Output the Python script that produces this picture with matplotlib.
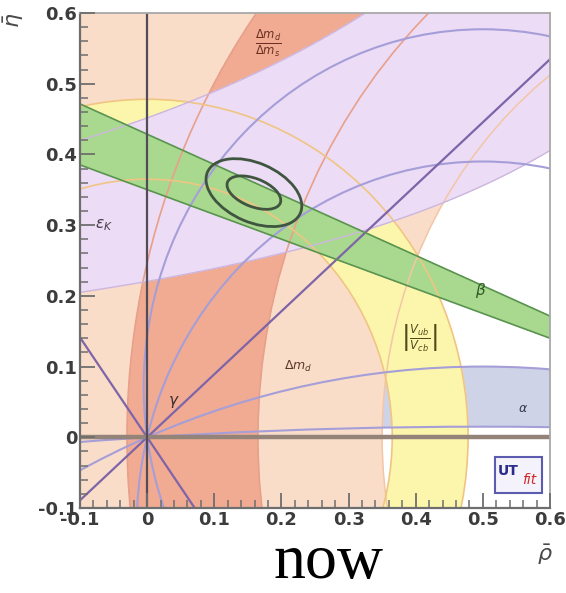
import numpy as np
import matplotlib.pyplot as plt
from matplotlib.patches import Circle, Ellipse, Rectangle
from matplotlib.ticker import MultipleLocator

plt.rcParams['font.family'] = ['DejaVu Sans']

# constraint shapes (rho-bar / eta-bar plane)
dmd_radius = 0.65             # inner edge of the dm_d ring round (1, 0)
dms_radii = [0.835, 1.03]     # dm_d/dm_s ring round (1, 0)
vub_radii = [0.365, 0.478]    # |Vub/Vcb| ring round (0, 0)
epsk_levels = [0.29, 0.594]   # eta * (epsk_shift - rho)
epsk_shift = 1.315
beta_deg = [19.3, 23.2]       # rays from (1, 0)
gamma_deg = [41.7, 125.3]     # rays from (0, 0)
alpha_apex = [0.015, 0.1, 0.39, 0.577]   # height of alpha circles at rho = 0.5
alpha_fill_apex = [0.1, 0.015]

fit_center = [0.159, 0.346]
fit_width = [0.084, 0.150]
fit_height = [0.040, 0.084]
fit_angle = [-20, -22]

tick_vals = [-0.1, 0.0, 0.1, 0.2, 0.3, 0.4, 0.5, 0.6]
tick_labels = ['-0.1', '0', '0.1', '0.2', '0.3', '0.4', '0.5', '0.6']

peach = '#f9ddc8'
salmon = '#f0ab92'
lavender = '#ecdcf5'
yellow = '#fcf6ac'
green = '#a9d98f'
alpha_col = '#cfd3e8'

fig = plt.figure(figsize=(5.66, 5.93), dpi=100)
ax = fig.add_axes([80 / 566, 85 / 593, 470 / 566, 495 / 593])

r = np.linspace(-0.1, 0.6, 801)
R, E = np.meshgrid(r, r)
d1 = np.hypot(1 - R, E)
d0 = np.hypot(R, E)
epsk = E * (epsk_shift - R)
beta_field = np.degrees(np.arctan2(E, 1 - R))
# angle seen from (rho, eta) between (0,0) and (1,0)
v1 = np.stack([-R, -E])
v2 = np.stack([1 - R, -E])
cosang = (v1 * v2).sum(0) / (np.hypot(*v1) * np.hypot(*v2) + 1e-12)
alpha_field = np.degrees(np.arccos(np.clip(cosang, -1, 1)))
alpha_field = np.where(E >= 0, alpha_field, np.nan)
alpha_lv = sorted(np.degrees(2 * np.arctan(0.5 / np.array(alpha_fill_apex))))

ax.contourf(R, E, alpha_field, levels=alpha_lv, colors=[alpha_col], zorder=1)
ax.contourf(R, E, d1, levels=[dmd_radius, 10], colors=[peach], zorder=2)
ax.contourf(R, E, d1, levels=dms_radii, colors=[salmon], zorder=3)
ax.contourf(R, E, d0, levels=vub_radii, colors=[yellow], zorder=4)
ax.contourf(R, E, epsk, levels=epsk_levels, colors=[lavender], zorder=5)
ax.contourf(R, E, beta_field, levels=beta_deg, colors=[green], zorder=6)

# outlines
ax.add_patch(Circle((1, 0), dmd_radius, fill=False, ec='#f3c6a6', lw=1.1, zorder=7))
for rad in dms_radii:
    ax.add_patch(Circle((1, 0), rad, fill=False, ec='#e8a08a', lw=1.2, zorder=7))
for rad in vub_radii:
    ax.add_patch(Circle((0, 0), rad, fill=False, ec='#f0c583', lw=1.2, zorder=7))
ax.contour(R, E, epsk, levels=epsk_levels, colors=['#cdb6de'], linewidths=1.0, zorder=7)
for h in alpha_apex:
    k = (h ** 2 - 0.25) / (2 * h)
    ax.add_patch(Circle((0.5, k), np.hypot(0.5, k), fill=False, ec='#a59ed8',
                        lw=1.5, zorder=8))
for g in gamma_deg:
    ax.axline((0, 0), slope=np.tan(np.radians(g)), color='#7e64a8', lw=1.6, zorder=8)
for b in beta_deg:
    ax.axline((1, 0), slope=-np.tan(np.radians(b)), color='#5a9450', lw=1.2, zorder=8)

ax.axhline(0, color='#948379', lw=3.2, zorder=9)
ax.axvline(0, color='#524c58', lw=1.6, zorder=9)

for w, hgt, ang in zip(fit_width, fit_height, fit_angle):
    ax.add_patch(Ellipse(fit_center, w, hgt, angle=ang, fill=False, ec='#3f5540',
                         lw=2.0, zorder=10))

# labels of the constraints
ax.text(0.18, 0.558, r'$\frac{\Delta m_d}{\Delta m_s}$', color='#6b2f22', fontsize=12,
        ha='center', va='center', zorder=11)
ax.text(-0.064, 0.3, r'$\epsilon_K$', color='#4a3a4a', fontsize=11, ha='center',
        va='center', zorder=11)
ax.text(0.497, 0.207, r'$\beta$', color='#2f5a25', fontsize=11, ha='center',
        va='center', zorder=11)
ax.text(0.405, 0.14, r'$\left|\frac{V_{ub}}{V_{cb}}\right|$', color='#50491c',
        fontsize=12, ha='center', va='center', zorder=11)
ax.text(0.225, 0.1, r'$\Delta m_d$', color='#5a3a2a', fontsize=9, ha='center',
        va='center', zorder=11)
ax.text(0.04, 0.05, r'$\gamma$', color='#3a2a30', fontsize=11, ha='center',
        va='center', zorder=11)
ax.text(0.56, 0.04, r'$\alpha$', color='#3a3a4a', fontsize=9, ha='center',
        va='center', zorder=11)

# UTfit logo
ax.add_patch(Rectangle((0.884, 0.031), 0.099, 0.072, transform=ax.transAxes,
                       fc='#f4f2fb', ec='#5b5bb0', lw=1.5, zorder=11))
ax.text(0.912, 0.074, 'UT', transform=ax.transAxes, color='#2c2c8c', fontsize=10,
        fontweight='bold', ha='center', va='center', zorder=12)
ax.text(0.956, 0.056, 'fit', transform=ax.transAxes, color='#d02a2a', fontsize=10,
        style='italic', ha='center', va='center', zorder=12)

ax.set_xlim(-0.1, 0.6)
ax.set_ylim(-0.1, 0.6)
ax.set_xticks(tick_vals)
ax.set_xticklabels(tick_labels)
ax.set_yticks(tick_vals)
ax.set_yticklabels(tick_labels)
ax.xaxis.set_minor_locator(MultipleLocator(0.02))
ax.yaxis.set_minor_locator(MultipleLocator(0.02))
ax.tick_params(which='major', direction='in', length=11, width=1.3, color='#6e6e6e',
               labelsize=13, labelcolor='#3c3c3c', pad=2)
ax.tick_params(which='minor', direction='in', length=6, width=1.1, color='#6e6e6e')
for lab in ax.get_xticklabels() + ax.get_yticklabels():
    lab.set_fontweight('bold')
ax.xaxis.set_zorder(13)
ax.yaxis.set_zorder(13)
for side in ['left', 'bottom']:
    ax.spines[side].set_color('#6e6e6e')
    ax.spines[side].set_linewidth(1.6)
    ax.spines[side].set_zorder(12)
for side in ['top', 'right']:
    ax.spines[side].set_color('#a8a8a8')
    ax.spines[side].set_linewidth(1.3)
    ax.spines[side].set_zorder(12)

fig.text(0.024, 0.966, r'$\bar{\eta}$', rotation=90, fontsize=16, color='#4a4a4a',
         ha='center', va='center')
fig.text(0.963, 0.064, r'$\bar{\rho}$', fontsize=16, color='#4a4a4a',
         ha='center', va='center')
fig.text(0.58, 0.05, 'now', family='Liberation Serif', fontsize=46,
         ha='center', va='center')

fig.savefig('out.png', dpi=100)
